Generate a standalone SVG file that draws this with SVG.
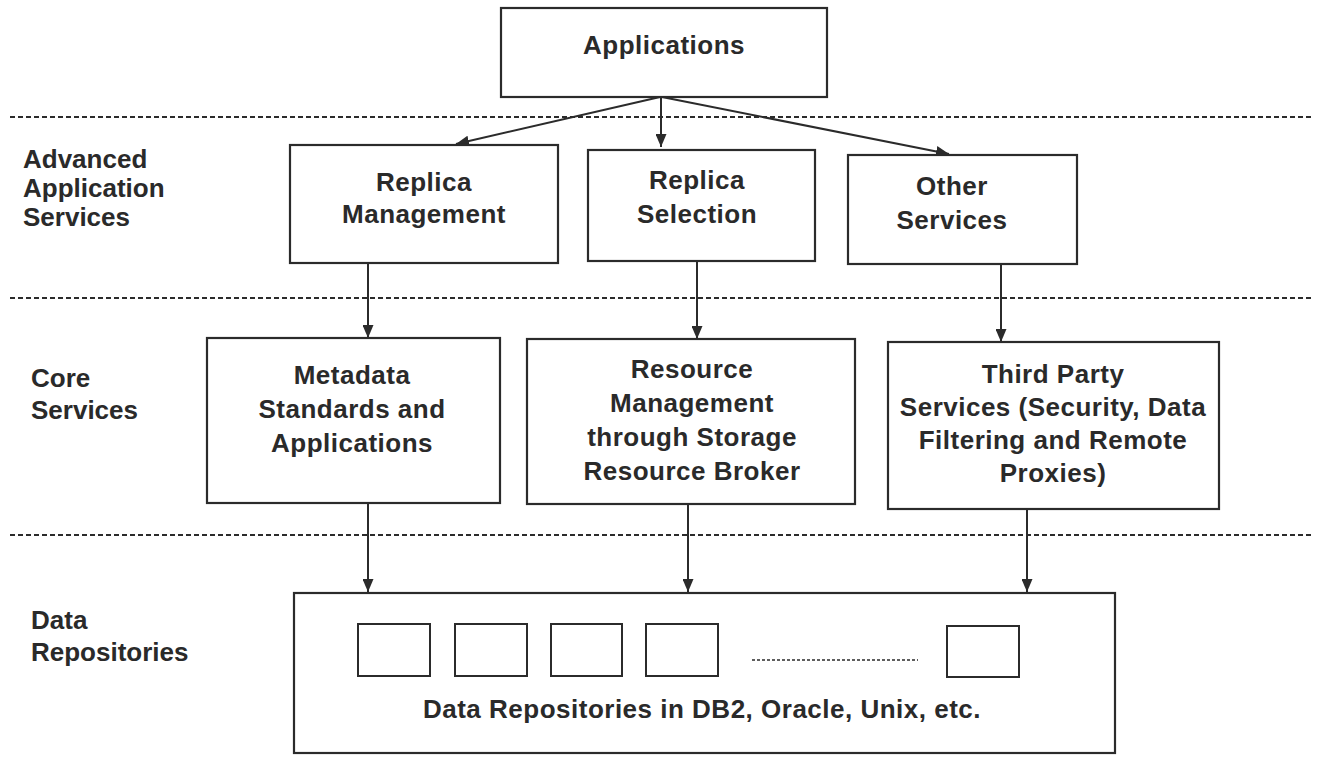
<svg xmlns="http://www.w3.org/2000/svg" width="1319" height="758" viewBox="0 0 1319 758">
  <style>
    .box { fill: #ffffff; stroke: #2b2b2b; stroke-width: 2.2; }
    .small { fill: #ffffff; stroke: #2b2b2b; stroke-width: 2; }
    .t { font-family: "Liberation Sans", Arial, sans-serif; font-weight: bold; font-size: 26px; letter-spacing: 0.5px; fill: #2a2a2a; text-anchor: middle; }
    .lbl { font-family: "Liberation Sans", Arial, sans-serif; font-weight: bold; font-size: 26px; fill: #2a2a2a; }
    .sep { stroke: #2b2b2b; stroke-width: 2; stroke-dasharray: 5 3; fill: none; }
    .dots { stroke: #2b2b2b; stroke-width: 1.5; stroke-dasharray: 3 2; fill: none; }
    .edge { stroke: #2b2b2b; stroke-width: 2; fill: none; marker-end: url(#arrow); }
  </style>
  <defs>
    <marker id="arrow" viewBox="0 0 13 11" refX="13" refY="5.5" markerWidth="13" markerHeight="11" markerUnits="userSpaceOnUse" orient="auto">
      <path d="M0,0 L13,5.5 L0,11 Z" fill="#2b2b2b"/>
    </marker>
  </defs>

  <rect width="1319" height="758" fill="#ffffff"/>

  <!-- layer separators -->
  <g id="separators">
    <line class="sep" x1="10" y1="117" x2="1313" y2="117"/>
    <line class="sep" x1="10" y1="298" x2="1313" y2="298"/>
    <line class="sep" x1="10" y1="535" x2="1313" y2="535"/>
  </g>

  <!-- layer labels -->
  <g id="layer-labels">
    <text class="lbl" x="23" y="168">Advanced</text>
    <text class="lbl" x="23" y="197">Application</text>
    <text class="lbl" x="23" y="226">Services</text>
    <text class="lbl" x="31" y="387">Core</text>
    <text class="lbl" x="31" y="419">Services</text>
    <text class="lbl" x="31" y="629">Data</text>
    <text class="lbl" x="31" y="661">Repositories</text>
  </g>

  <!-- connectors -->
  <g id="connectors">
    <line class="edge" x1="660" y1="97" x2="456" y2="144"/>
    <line class="edge" x1="661" y1="97" x2="661" y2="147"/>
    <line class="edge" x1="662" y1="97" x2="949" y2="154"/>
    <line class="edge" x1="368" y1="263" x2="368" y2="338"/>
    <line class="edge" x1="697" y1="261" x2="697" y2="339"/>
    <line class="edge" x1="1001" y1="264" x2="1001" y2="342"/>
    <line class="edge" x1="368" y1="503" x2="368" y2="592"/>
    <line class="edge" x1="688" y1="504" x2="688" y2="592"/>
    <line class="edge" x1="1027" y1="509" x2="1027" y2="592"/>
  </g>

  <g id="applications">
    <rect class="box" x="501" y="8" width="326" height="89"/>
    <text class="t" x="664" y="54" letter-spacing="0">Applications</text>
  </g>

  <g id="replica-management">
    <rect class="box" x="290" y="145" width="268" height="118"/>
    <text class="t" x="424" y="191">Replica</text>
    <text class="t" x="424" y="223">Management</text>
  </g>

  <g id="replica-selection">
    <rect class="box" x="588" y="150" width="227" height="111"/>
    <text class="t" x="697" y="189">Replica</text>
    <text class="t" x="697" y="223">Selection</text>
  </g>

  <g id="other-services">
    <rect class="box" x="848" y="155" width="229" height="109"/>
    <text class="t" x="952" y="195">Other</text>
    <text class="t" x="952" y="229">Services</text>
  </g>

  <g id="metadata">
    <rect class="box" x="207" y="338" width="293" height="165"/>
    <text class="t" x="352" y="384">Metadata</text>
    <text class="t" x="352" y="418">Standards and</text>
    <text class="t" x="352" y="452">Applications</text>
  </g>

  <g id="resource-management">
    <rect class="box" x="527" y="339" width="328" height="165"/>
    <text class="t" x="692" y="378">Resource</text>
    <text class="t" x="692" y="412">Management</text>
    <text class="t" x="692" y="446">through Storage</text>
    <text class="t" x="692" y="480">Resource Broker</text>
  </g>

  <g id="third-party">
    <rect class="box" x="888" y="342" width="331" height="167"/>
    <text class="t" x="1053" y="383">Third Party</text>
    <text class="t" x="1053" y="416">Services (Security, Data</text>
    <text class="t" x="1053" y="449">Filtering and Remote</text>
    <text class="t" x="1053" y="482">Proxies)</text>
  </g>

  <g id="data-repositories">
    <rect class="box" x="294" y="593" width="821" height="160"/>
    <rect class="small" x="358" y="624" width="72" height="52"/>
    <rect class="small" x="455" y="624" width="72" height="52"/>
    <rect class="small" x="551" y="624" width="71" height="52"/>
    <rect class="small" x="646" y="624" width="72" height="52"/>
    <line class="dots" x1="752" y1="660" x2="918" y2="660"/>
    <rect class="small" x="947" y="626" width="72" height="51"/>
    <text class="t" x="702" y="718" letter-spacing="0.2">Data Repositories in DB2, Oracle, Unix, etc.</text>
  </g>
</svg>
